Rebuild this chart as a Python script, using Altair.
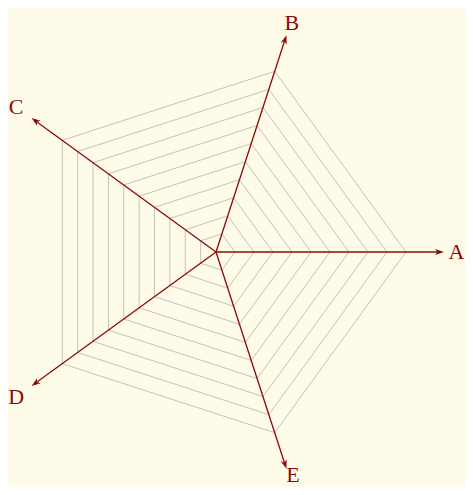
import math
import altair as alt
import pandas as pd

# ---- data ----
axis_names = ["A", "B", "C", "D", "E"]
axis_angles_deg = [0, 72, 144, 216, 288]
ring_levels = [1, 2, 3, 4, 5, 6, 7, 8, 9, 10]
axis_length = 12.0

# label placement (polar, in ring units / degrees), per axis
label_radii = [12.65, 12.7, 13.0, 13.0, 12.44]
label_angles = [0, 71.7, 144, 216, 289]

# ---- layout constants ----
W, H = 457, 479
unit_px = 19.0
cx_px, cy_px = 208.0, 244.0  # centre inside the chart
x_dom = [-cx_px / unit_px, (W - cx_px) / unit_px]
y_dom = [-(H - cy_px) / unit_px, cy_px / unit_px]

AXIS_COLOR = "#8b0a0a"
GRID_COLOR = "#c2c2bf"
BG = "#fffbe9"

# grid pentagons
grid_rows = []
for r in ring_levels:
    for i, a in enumerate(axis_angles_deg + [360]):
        t = math.radians(a)
        grid_rows.append({"ring": r, "k": i, "x": r * math.cos(t), "y": r * math.sin(t)})
grid_df = pd.DataFrame(grid_rows)

head_len_units = 9.0 / unit_px
axis_rows = []
for name, a, lr, la in zip(axis_names, axis_angles_deg, label_radii, label_angles):
    t = math.radians(a)
    c, s = math.cos(t), math.sin(t)
    tl = math.radians(la)
    line_end = axis_length - head_len_units * 0.6
    head_c = axis_length - head_len_units / 2
    axis_rows.append({
        "name": name,
        "x0": 0.0, "y0": 0.0,
        "x1": line_end * c, "y1": line_end * s,
        "hx": head_c * c, "hy": head_c * s,
        "rot": (90 - a) % 360,
        "lx": lr * math.cos(tl), "ly": lr * math.sin(tl),
    })
axis_df = pd.DataFrame(axis_rows)

xs = alt.Scale(domain=x_dom, nice=False, zero=False)
ys = alt.Scale(domain=y_dom, nice=False, zero=False)

grid = alt.Chart(grid_df).mark_line(color=GRID_COLOR, strokeWidth=1).encode(
    x=alt.X("x:Q", scale=xs, axis=None),
    y=alt.Y("y:Q", scale=ys, axis=None),
    detail="ring:N",
    order="k:Q",
)

axes = alt.Chart(axis_df).mark_rule(color=AXIS_COLOR, strokeWidth=1.3).encode(
    x=alt.X("x0:Q", scale=xs, axis=None),
    y=alt.Y("y0:Q", scale=ys, axis=None),
    x2="x1:Q",
    y2="y1:Q",
)

heads = alt.Chart(axis_df).mark_point(
    shape="M0,-1L0.68,1L0,0.45L-0.68,1Z",
    filled=True,
    color=AXIS_COLOR,
    opacity=1,
    size=81,
    strokeWidth=0,
).encode(
    x=alt.X("hx:Q", scale=xs, axis=None),
    y=alt.Y("hy:Q", scale=ys, axis=None),
    angle=alt.Angle("rot:Q", scale=None),
)

labels = alt.Chart(axis_df).mark_text(
    font="Liberation Serif",
    fontSize=22,
    color=AXIS_COLOR,
    align="center",
    baseline="middle",
).encode(
    x=alt.X("lx:Q", scale=xs, axis=None),
    y=alt.Y("ly:Q", scale=ys, axis=None),
    text="name:N",
)

chart = (
    alt.layer(grid, axes, heads, labels)
    .properties(
        width=W,
        height=H,
        autosize=alt.AutoSizeParams(type="none"),
        padding=0,
        background=BG,
    )
    .configure_view(stroke=None)
)

chart.save("out.html", embed_options={"renderer": "svg", "actions": False})
